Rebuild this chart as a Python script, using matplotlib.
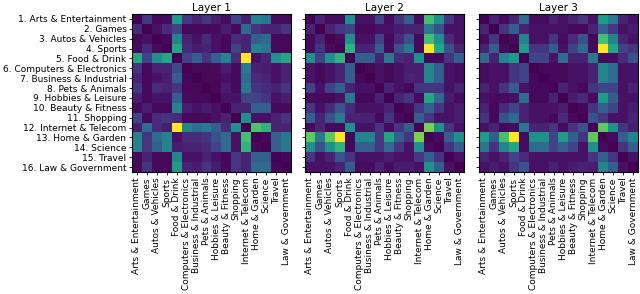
import numpy as np
import matplotlib
matplotlib.use("Agg")
import matplotlib.pyplot as plt

categories = ["Arts & Entertainment", "Games", "Autos & Vehicles", "Sports",
              "Food & Drink", "Computers & Electronics", "Business & Industrial",
              "Pets & Animals", "Hobbies & Leisure", "Beauty & Fitness",
              "Shopping", "Internet & Telecom", "Home & Garden", "Science",
              "Travel", "Law & Government"]

layer1 = [
    [0, .15, .02, .03, .55, .15, .10, .15, .08, .03, .20, .08, .45, .40, .03, .03],
    [.12, 0, .05, .12, .20, .02, .02, .02, .03, .08, .02, .35, .15, .10, .10, .15],
    [.02, .05, 0, .02, .45, .10, .05, .12, .05, .02, .12, .10, .30, .35, .02, .02],
    [.03, .12, .03, 0, .60, .12, .08, .10, .05, .02, .20, .10, .45, .40, .02, .02],
    [.60, .20, .50, .60, 0, .20, .30, .15, .30, .45, .12, 1.0, .05, .10, .50, .60],
    [.15, .02, .10, .10, .22, 0, .02, .02, .03, .08, .02, .40, .10, .08, .05, .10],
    [.10, .02, .05, .08, .30, .02, 0, .02, .02, .05, .02, .35, .12, .10, .05, .10],
    [.15, .02, .12, .10, .15, .02, .02, 0, .02, .08, .02, .40, .15, .12, .10, .15],
    [.08, .02, .05, .05, .30, .03, .02, .02, 0, .05, .05, .20, .20, .15, .05, .08],
    [.03, .08, .02, .02, .45, .08, .05, .08, .05, 0, .10, .10, .30, .30, .02, .02],
    [.20, .02, .12, .15, .12, .02, .02, .02, .05, .10, 0, .50, .05, .05, .10, .15],
    [.08, .35, .12, .08, 1.0, .45, .35, .40, .30, .12, .50, 0, .72, .65, .10, .10],
    [.45, .15, .35, .45, .05, .12, .12, .15, .25, .35, .05, .70, 0, .02, .30, .40],
    [.45, .15, .30, .45, .08, .10, .10, .12, .20, .35, .05, .65, .02, 0, .30, .40],
    [.02, .10, .02, .02, .45, .05, .05, .10, .05, .02, .15, .10, .30, .30, 0, .02],
    [.02, .15, .02, .02, .55, .10, .08, .15, .08, .02, .15, .10, .35, .35, .02, 0],
]

layer2 = [
    [0, .10, .03, .03, .50, .05, .05, .20, .03, .15, .30, .03, .70, .50, .15, .05],
    [.10, 0, .10, .15, .20, .02, .02, .05, .05, .08, .10, .10, .40, .25, .05, .05],
    [.03, .10, 0, .03, .50, .05, .05, .20, .02, .12, .25, .02, .70, .50, .12, .05],
    [.03, .15, .03, 0, .65, .10, .10, .30, .03, .25, .40, .02, 1.0, .60, .25, .10],
    [.50, .20, .50, .65, 0, .30, .30, .10, .40, .12, .10, .50, .02, .02, .15, .30],
    [.05, .02, .05, .10, .30, 0, .02, .05, .02, .05, .08, .08, .45, .30, .05, .03],
    [.05, .02, .05, .10, .30, .02, 0, .05, .02, .05, .10, .08, .45, .30, .05, .03],
    [.20, .05, .20, .30, .10, .05, .05, 0, .10, .05, .02, .15, .15, .15, .05, .10],
    [.03, .02, .02, .05, .40, .02, .02, .10, 0, .10, .15, .03, .60, .35, .08, .03],
    [.15, .05, .12, .25, .12, .05, .05, .05, .10, 0, .03, .15, .30, .15, .05, .08],
    [.30, .10, .25, .40, .10, .10, .10, .02, .15, .03, 0, .30, .15, .05, .05, .08],
    [.02, .10, .02, .02, .50, .05, .05, .15, .03, .15, .30, 0, .80, .50, .15, .05],
    [.75, .40, .75, 1.0, .02, .45, .45, .15, .60, .30, .15, .80, 0, .03, .30, .50],
    [.50, .25, .50, .65, .02, .30, .30, .15, .35, .15, .05, .50, .03, 0, .15, .30],
    [.15, .05, .10, .25, .15, .05, .05, .05, .08, .05, .05, .15, .30, .15, 0, .05],
    [.05, .05, .05, .10, .30, .03, .03, .10, .03, .08, .08, .05, .50, .30, .05, 0],
]

layer3 = [
    [0, .10, .03, .10, .35, .03, .03, .10, .05, .10, .15, .05, .55, .40, .10, .05],
    [.10, 0, .15, .30, .10, .05, .05, .05, .05, .02, .02, .10, .30, .15, .05, .08],
    [.03, .15, 0, .03, .45, .05, .05, .15, .03, .12, .25, .02, .70, .45, .10, .05],
    [.10, .30, .03, 0, .55, .15, .15, .30, .05, .20, .35, .03, 1.0, .60, .20, .15],
    [.35, .10, .45, .55, 0, .20, .20, .05, .35, .10, .10, .40, .03, .03, .12, .25],
    [.03, .05, .05, .15, .20, 0, .02, .02, .02, .05, .05, .10, .45, .35, .05, .05],
    [.03, .05, .05, .15, .20, .02, 0, .02, .02, .05, .05, .10, .45, .35, .05, .05],
    [.10, .05, .15, .30, .05, .02, .02, 0, .10, .05, .02, .15, .20, .20, .05, .10],
    [.05, .03, .03, .05, .35, .02, .02, .10, 0, .08, .12, .03, .55, .30, .05, .05],
    [.10, .02, .12, .20, .10, .05, .05, .05, .08, 0, .02, .15, .30, .20, .05, .08],
    [.15, .02, .25, .35, .10, .05, .05, .02, .12, .02, 0, .25, .15, .05, .05, .10],
    [.05, .10, .02, .03, .40, .10, .10, .15, .03, .15, .25, 0, .75, .50, .15, .08],
    [.55, .30, .70, 1.0, .03, .50, .50, .20, .55, .30, .15, .75, 0, .03, .30, .45],
    [.40, .15, .45, .60, .03, .35, .35, .20, .30, .20, .05, .50, .03, 0, .15, .30],
    [.10, .05, .10, .20, .12, .05, .05, .05, .05, .05, .05, .15, .30, .15, 0, .05],
    [.05, .08, .05, .15, .25, .05, .05, .10, .05, .08, .10, .08, .45, .30, .05, 0],
]

layers = [layer1, layer2, layer3]
titles = ["Layer 1", "Layer 2", "Layer 3"]

fig = plt.figure(figsize=(6.4, 2.94), dpi=100)
lefts = [132, 305, 479]
for i, (mat, title) in enumerate(zip(layers, titles)):
    ax = fig.add_axes([lefts[i] / 640, 122 / 294, 159 / 640, 158 / 294])
    ax.imshow(np.array(mat), cmap="viridis", vmin=0, vmax=1,
              interpolation="nearest", aspect="auto")
    ax.set_title(title, fontsize=7.5, pad=2)
    ax.set_xticks(range(len(categories)))
    ax.set_xticklabels(categories, rotation=90, fontsize=6.5)
    ax.set_yticks(range(len(categories)))
    if i == 0:
        ax.set_yticklabels([f"{k + 1}. {c}" for k, c in enumerate(categories)],
                           fontsize=6.5)
    else:
        ax.set_yticklabels([])
    ax.tick_params(length=2.5, pad=1.5, width=0.6)
    for s in ax.spines.values():
        s.set_linewidth(0.8)

fig.savefig("out.png", dpi=100)
